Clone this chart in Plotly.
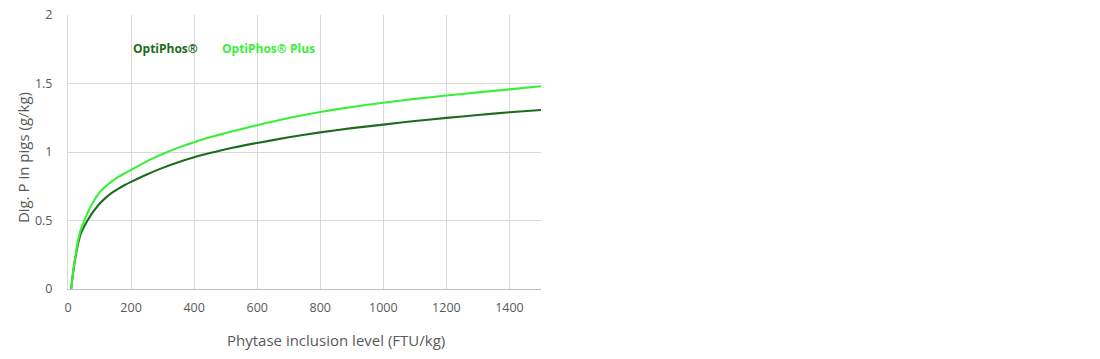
import plotly.graph_objects as go

# Phytase inclusion level (FTU/kg)
ftu = [10, 15, 20, 25, 30, 40, 50, 60, 70, 80, 90, 100, 120, 140, 160, 180, 200,
       250, 300, 350, 400, 450, 500, 600, 700, 800, 900, 1000, 1100, 1200, 1300,
       1400, 1500]
# Digestible P in pigs (g/kg)
optiphos = [0, 0.1, 0.18, 0.25, 0.31, 0.4, 0.45, 0.492, 0.53, 0.564, 0.594, 0.622,
            0.667, 0.703, 0.733, 0.759, 0.782, 0.836, 0.884, 0.925, 0.961, 0.992,
            1.02, 1.066, 1.107, 1.143, 1.174, 1.2, 1.226, 1.249, 1.27, 1.29, 1.307]
optiphos_plus = [0, 0.1, 0.19, 0.26, 0.33, 0.43, 0.49, 0.545, 0.593, 0.635, 0.672,
                 0.705, 0.75, 0.787, 0.818, 0.845, 0.87, 0.932, 0.985, 1.032, 1.072,
                 1.107, 1.138, 1.196, 1.248, 1.292, 1.329, 1.36, 1.388, 1.412, 1.435,
                 1.457, 1.48]
series_names = ["OptiPhos®", "OptiPhos® Plus"]
x_ticks = [0, 200, 400, 600, 800, 1000, 1200, 1400]
y_ticks = [0, 0.5, 1, 1.5, 2]
y_tick_text = ["0", "0.5", "1", "1.5", "2"]

DARK = "#1e6b1e"
LIGHT = "#38f038"
GREY = "#595959"
FONT = "Open Sans"

fig = go.Figure()
fig.add_trace(go.Scatter(x=ftu, y=optiphos, mode="lines", name=series_names[0],
                         line=dict(color=DARK, width=2.1, shape="spline", smoothing=0.6)))
fig.add_trace(go.Scatter(x=ftu, y=optiphos_plus, mode="lines", name=series_names[1],
                         line=dict(color=LIGHT, width=2.1, shape="spline", smoothing=0.6)))

# white legend box
fig.add_shape(type="rect", xref="paper", yref="paper",
              x0=0.121, x1=0.527, y0=0.823, y1=0.937,
              fillcolor="white", line=dict(width=0), layer="between")
fig.add_annotation(xref="paper", yref="paper", x=0.133, y=0.876, xanchor="left",
                   yanchor="middle", showarrow=False, text="<b>" + series_names[0] + "</b>",
                   font=dict(family=FONT, size=12, color=DARK))
fig.add_annotation(xref="paper", yref="paper", x=0.322, y=0.876, xanchor="left",
                   yanchor="middle", showarrow=False, text="<b>" + series_names[1] + "</b>",
                   font=dict(family=FONT, size=12, color=LIGHT))
# x axis title (offset to the right as in the original)
fig.add_annotation(xref="paper", yref="paper", x=0.567, y=-0.186, xanchor="center",
                   yanchor="middle", showarrow=False, text="Phytase inclusion level (FTU/kg)",
                   font=dict(family=FONT, size=15, color=GREY))
# y axis title
fig.add_annotation(xref="paper", yref="paper", x=-0.095, y=0.478, xanchor="center",
                   yanchor="middle", showarrow=False, textangle=-90,
                   text="Dig. P in pigs (g/kg)",
                   font=dict(family=FONT, size=15, color=GREY))

fig.update_layout(
    width=1100, height=359,
    margin=dict(l=68, r=559, t=15, b=70, autoexpand=False),
    paper_bgcolor="white", plot_bgcolor="white",
    showlegend=False,
    font=dict(family=FONT, color=GREY, size=12),
)
fig.update_xaxes(range=[0, 1500], tickvals=x_ticks, showgrid=True, gridcolor="#d9d9d9",
                 gridwidth=1, zeroline=False, showline=True, linecolor="#bfbfbf", linewidth=1,
                 ticks="", ticklabelstandoff=7, automargin=False,
                 tickfont=dict(family=FONT, size=12.5, color=GREY))
fig.update_yaxes(range=[0, 2], tickvals=y_ticks, ticktext=y_tick_text,
                 showgrid=True, gridcolor="#d9d9d9", gridwidth=1, zeroline=False,
                 showline=True, linecolor="#d9d9d9", linewidth=1,
                 ticks="", ticklabelstandoff=12, automargin=False,
                 tickfont=dict(family=FONT, size=12.5, color=GREY))

fig.write_html("out.html")
